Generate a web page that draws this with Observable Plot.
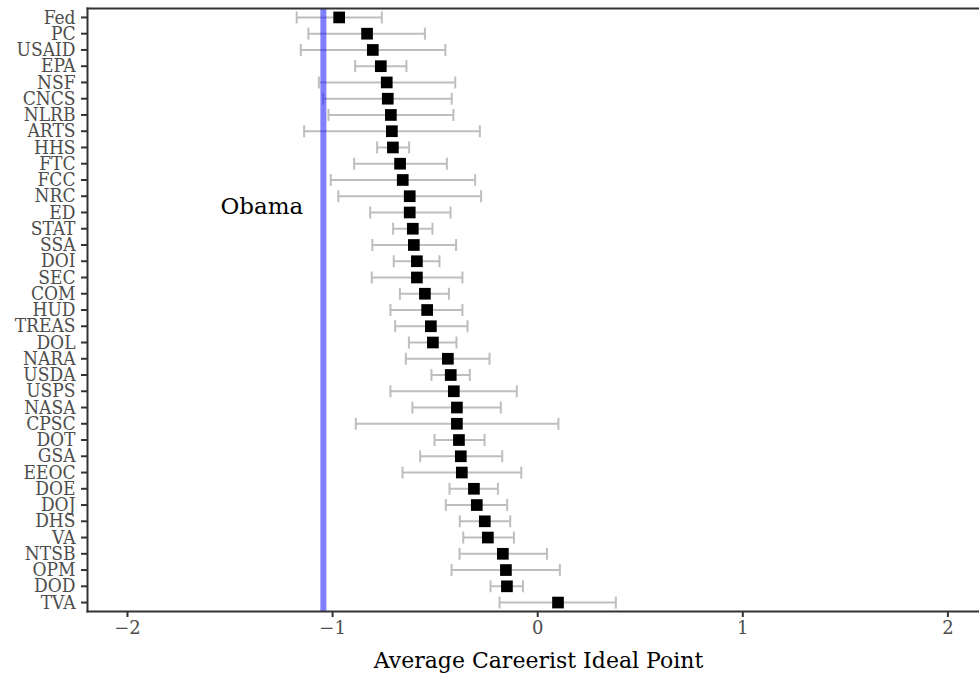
<!DOCTYPE html>
<html>
<head>
<meta charset="utf-8">
<script src="https://cdn.jsdelivr.net/npm/d3@7"></script>
<script src="https://cdn.jsdelivr.net/npm/@observablehq/plot@0.6"></script>
<style>
  body { margin: 0; background: #fff; overflow: hidden; }
  #chart svg { display: block; }
  .careerist g[aria-label^="y-axis"] text {
    font-family: "DejaVu Serif Condensed", "Liberation Serif", serif;
    font-size: 19px; fill: #4d4d4d;
  }
  .careerist g[aria-label^="x-axis"] text {
    font-family: "DejaVu Serif", "Liberation Serif", serif;
    font-size: 18px; fill: #4d4d4d;
  }
  .careerist g[aria-label^="y-axis"] line,
  .careerist g[aria-label^="x-axis"] line,
  .careerist g[aria-label="y-axis tick"] path,
  .careerist g[aria-label="x-axis tick"] path {
    stroke: #333; stroke-width: 2;
  }
</style>
</head>
<body>
<div id="chart"></div>
<script>
const agencies = ["Fed","PC","USAID","EPA","NSF","CNCS","NLRB","ARTS","HHS","FTC","FCC","NRC","ED","STAT","SSA","DOI","SEC","COM","HUD","TREAS","DOL","NARA","USDA","USPS","NASA","CPSC","DOT","GSA","EEOC","DOE","DOJ","DHS","VA","NTSB","OPM","DOD","TVA"];
const meanIdeal = [-0.968,-0.832,-0.804,-0.765,-0.736,-0.731,-0.716,-0.711,-0.706,-0.671,-0.658,-0.624,-0.624,-0.609,-0.604,-0.589,-0.589,-0.550,-0.539,-0.521,-0.511,-0.438,-0.424,-0.409,-0.394,-0.394,-0.384,-0.375,-0.370,-0.311,-0.297,-0.258,-0.243,-0.170,-0.155,-0.150,0.099];
const lowerCI = [-1.175,-1.118,-1.155,-0.890,-1.067,-1.046,-1.020,-1.139,-0.783,-0.895,-1.009,-0.972,-0.817,-0.705,-0.806,-0.702,-0.809,-0.672,-0.718,-0.695,-0.628,-0.643,-0.518,-0.718,-0.611,-0.887,-0.503,-0.573,-0.659,-0.430,-0.448,-0.380,-0.363,-0.381,-0.420,-0.230,-0.186];
const upperCI = [-0.760,-0.550,-0.450,-0.640,-0.402,-0.419,-0.411,-0.282,-0.627,-0.443,-0.305,-0.276,-0.425,-0.513,-0.398,-0.479,-0.367,-0.433,-0.367,-0.342,-0.396,-0.235,-0.331,-0.102,-0.180,0.101,-0.259,-0.173,-0.080,-0.194,-0.149,-0.134,-0.116,0.045,0.108,-0.072,0.381];
const xTicks = [-2, -1, 0, 1, 2];
const obamaIdeal = [-1.045];
const obamaLabel = ["Obama"];
const obamaRow = "ED";
const xLabel = "Average Careerist Ideal Point";

const data = agencies.map((a, i) => ({agency: a, mean: meanIdeal[i], lo: lowerCI[i], hi: upperCI[i]}));

const capSymbol = {
  draw(context, size) {
    const h = Math.sqrt(size / Math.PI);
    context.moveTo(0, -h);
    context.lineTo(0, h);
  }
};

const serif = '"DejaVu Serif", "Liberation Serif", serif';

const chart = Plot.plot({
  className: "careerist",
  width: 979,
  height: 675,
  marginLeft: 87,
  marginRight: 0,
  marginTop: 8,
  marginBottom: 64,
  style: {background: "#fff", fontFamily: serif},
  x: {domain: [-2.195, 2.154], ticks: xTicks, tickFormat: d3.format("d"), tickSize: 6, tickPadding: 4, label: null},
  y: {domain: agencies, padding: 0.55, round: false, tickSize: 6, tickPadding: 6, label: null},
  marks: [
    Plot.ruleY(data, {y: "agency", x1: "lo", x2: "hi", stroke: "#bebebe", strokeWidth: 2}),
    Plot.dot(data, {x: "lo", y: "agency", symbol: capSymbol, r: 6, stroke: "#bebebe", strokeWidth: 2, fill: "none"}),
    Plot.dot(data, {x: "hi", y: "agency", symbol: capSymbol, r: 6, stroke: "#bebebe", strokeWidth: 2, fill: "none"}),
    Plot.ruleX(obamaIdeal, {x: d => d, stroke: "blue", strokeOpacity: 0.5, strokeWidth: 6}),
    Plot.dot(data, {x: "mean", y: "agency", symbol: "square", r: 6.6, fill: "black", stroke: "none"}),
    Plot.text(obamaLabel, {x: () => -1.345, y: () => obamaRow, text: d => d, fontSize: 23, fontFamily: serif, fill: "black", dy: -6}),
    Plot.text([xLabel], {frameAnchor: "bottom", text: d => d, dy: 56, dx: 5, fontSize: 22, fontFamily: serif, fill: "black"}),
    Plot.frame({anchor: "top", stroke: "#333", strokeWidth: 2}),
    Plot.frame({anchor: "left", stroke: "#333", strokeWidth: 2}),
    Plot.frame({anchor: "bottom", stroke: "#333", strokeWidth: 2})
  ]
});

document.getElementById("chart").appendChild(chart);
</script>
</body>
</html>
